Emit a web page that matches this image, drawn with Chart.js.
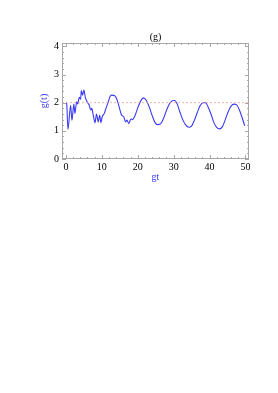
<!DOCTYPE html>
<html>
<head>
<meta charset="utf-8">
<script src="https://cdn.jsdelivr.net/npm/chart.js@4/dist/chart.umd.min.js"></script>
<style>
html,body{margin:0;padding:0;background:#fff;}
#wrap{position:relative;width:278px;height:200px;}
</style>
</head>
<body>
<div id="wrap"><canvas id="c" width="278" height="200"></canvas></div>
<script>
// gt values and g(t) values
const gtValues = [0, 0.2, 0.56, 1.3, 1.67, 2.2, 2.5, 2.97, 3.3, 3.7, 4.1, 4.27, 4.64, 5.0, 5.4, 5.9, 6.5, 6.9, 7.2, 7.6, 8.1, 8.5, 9.0, 9.4, 9.75, 10.1, 10.7, 11.0, 11.8, 12.25, 12.7, 13.6, 14.1, 14.8, 15.5, 16.1, 16.6, 17.0, 17.5, 18.1, 18.6, 19.2, 20.1, 21.0, 21.6, 22.4, 23.2, 24.0, 24.8, 25.5, 26.3, 27.2, 28.0, 28.8, 29.6, 30.3, 31.0, 31.8, 32.6, 33.4, 34.2, 35.0, 35.8, 36.6, 37.4, 38.2, 38.9, 39.6, 40.4, 41.2, 42.0, 42.8, 43.6, 44.4, 45.2, 46.0, 46.8, 47.5, 48.3, 49.0, 49.8];
const gValues = [2.0, 1.97, 1.05, 1.91, 1.38, 1.95, 1.62, 2.03, 1.95, 2.19, 2.12, 2.43, 2.27, 2.45, 2.19, 2.03, 1.91, 1.74, 1.8, 1.56, 1.29, 1.6, 1.32, 1.55, 1.29, 1.5, 1.62, 1.74, 2.03, 2.21, 2.27, 2.25, 2.15, 1.86, 1.56, 1.5, 1.32, 1.38, 1.26, 1.42, 1.4, 1.53, 1.85, 2.1, 2.17, 2.08, 1.85, 1.55, 1.3, 1.22, 1.24, 1.45, 1.72, 1.95, 2.07, 2.08, 1.95, 1.65, 1.38, 1.2, 1.13, 1.17, 1.38, 1.65, 1.9, 2.0, 2.0, 1.85, 1.6, 1.3, 1.12, 1.07, 1.15, 1.4, 1.68, 1.88, 1.95, 1.93, 1.75, 1.5, 1.18];
const refLevel = 2;
const xRange = [-1.1, 51];
const yRange = [0, 4.12];
const xTickLabels = [0, 10, 20, 30, 40, 50];
const yTickLabels = [0, 1, 2, 3, 4];
const xMinorTicks = [0,2,4,6,8,10,12,14,16,18,20,22,24,26,28,30,32,34,36,38,40,42,44,46,48,50];
const yMinorTicks = [0,0.2,0.4,0.6,0.8,1,1.2,1.4,1.6,1.8,2,2.2,2.4,2.6,2.8,3,3.2,3.4,3.6,3.8,4];

const mainData = gtValues.map((x, i) => ({x: x, y: gValues[i]}));
const refData = xRange.map(x => ({x: x, y: refLevel}));

const framePlugin = {
  id: 'frame',
  afterDatasetsDraw(chart) {
    const {ctx, chartArea: a, scales: {x, y}} = chart;
    ctx.save();
    ctx.strokeStyle = '#a8a8a8';
    ctx.lineWidth = 1;
    ctx.strokeRect(a.left + 0.5, a.top + 0.5, a.right - a.left - 1, a.bottom - a.top - 1);
    ctx.beginPath();
    xMinorTicks.forEach(v => {
      const px = Math.round(x.getPixelForValue(v)) + 0.5;
      const len = xTickLabels.includes(v) ? 4 : 2;
      ctx.moveTo(px, a.bottom); ctx.lineTo(px, a.bottom - len);
      ctx.moveTo(px, a.top); ctx.lineTo(px, a.top + len);
    });
    yMinorTicks.forEach(v => {
      const py = Math.round(y.getPixelForValue(v)) + 0.5;
      const len = yTickLabels.includes(v) ? 4 : 2;
      ctx.moveTo(a.left, py); ctx.lineTo(a.left + len, py);
      ctx.moveTo(a.right, py); ctx.lineTo(a.right - len, py);
    });
    ctx.stroke();
    ctx.restore();
  }
};

new Chart(document.getElementById('c'), {
  type: 'scatter',
  data: {
    datasets: [
      {
        data: refData,
        showLine: true,
        borderColor: '#f4a0a0',
        borderWidth: 0.8,
        borderDash: [2, 2],
        pointRadius: 0
      },
      {
        data: mainData,
        showLine: true,
        borderColor: '#3a3af5',
        borderWidth: 1.1,
        pointRadius: 0,
        cubicInterpolationMode: 'monotone'
      }
    ]
  },
  options: {
    responsive: false,
    animation: false,
    events: [],
    layout: {padding: {left: 0, right: 29, top: 0, bottom: 0}},
    plugins: {
      legend: {display: false},
      tooltip: {enabled: false},
      title: {
        display: true,
        text: '(g)',
        fullSize: false,
        color: '#000',
        font: {family: 'Liberation Serif', size: 10, weight: 'normal'},
        padding: {top: 31, bottom: 0}
      }
    },
    scales: {
      x: {
        type: 'linear',
        min: xRange[0],
        max: xRange[1],
        afterBuildTicks: s => { s.ticks = xTickLabels.map(v => ({value: v})); },
        afterFit: s => { s.height = 41; },
        grid: {display: false, drawTicks: false},
        border: {display: false},
        ticks: {color: '#000', font: {family: 'Liberation Serif', size: 10}, padding: 2, maxRotation: 0, autoSkip: false},
        title: {display: true, text: 'gt', color: '#3a3af5', font: {family: 'Liberation Serif', size: 10}, padding: {top: 0, bottom: 17}}
      },
      y: {
        type: 'linear',
        min: yRange[0],
        max: yRange[1],
        afterBuildTicks: s => { s.ticks = yTickLabels.map(v => ({value: v})); },
        afterFit: s => { s.width = 62; },
        grid: {display: false, drawTicks: false},
        border: {display: false},
        ticks: {color: '#000', font: {family: 'Liberation Serif', size: 10}, padding: 3, autoSkip: false},
        title: {display: true, text: 'g(t)', color: '#3a3af5', font: {family: 'Liberation Serif', size: 10}, padding: {top: 38, bottom: 0}}
      }
    }
  },
  plugins: [framePlugin]
});
</script>
</body>
</html>
